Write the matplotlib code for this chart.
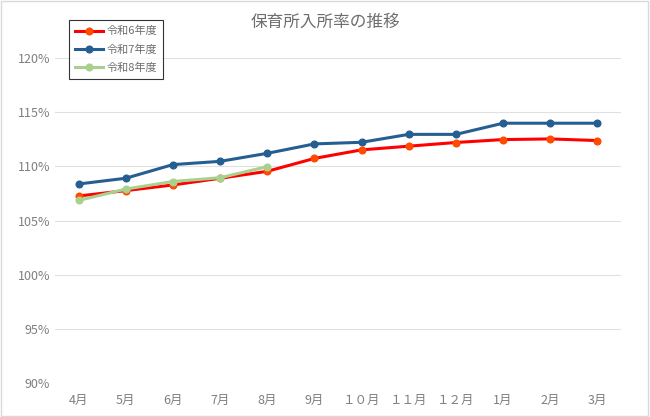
import matplotlib
matplotlib.use("Agg")
import matplotlib.pyplot as plt
from matplotlib.ticker import FuncFormatter

plt.rcParams['font.family'] = ['Noto Sans CJK JP', 'DejaVu Sans']

months = ['4月', '5月', '6月', '7月', '8月', '9月', '１０月', '１１月', '１２月', '1月', '2月', '3月']
r6 = [107.26, 107.76, 108.28, 108.9, 109.54, 110.73, 111.52, 111.86, 112.2, 112.47, 112.53, 112.38]
r7 = [108.37, 108.9, 110.16, 110.46, 111.2, 112.07, 112.22, 112.95, 112.95, 113.98, 113.98, 113.98]
r8 = [106.85, 107.9, 108.6, 108.95, 109.97]

fig = plt.figure(figsize=(6.5, 4.17), dpi=100)
ax = fig.add_axes([55/650, 1-383/417, (621-55)/650, (383-58)/417])

x = list(range(len(months)))
ax.plot(x, r6, color='#FF0000', lw=2.2, marker='o', ms=4.8,
        mfc='#FF4A00', mec='#FF4A00', label='令和6年度', zorder=3)
ax.plot(x, r7, color='#255E91', lw=2.2, marker='o', ms=4.8,
        label='令和7年度', zorder=2)
ax.plot(x[:len(r8)], r8, color='#A9D18E', lw=2.2, marker='o', ms=4.8,
        label='令和8年度', zorder=4)

ax.set_xlim(-0.5, len(months) - 0.5)
ax.set_ylim(90, 120)
ax.set_yticks(range(90, 121, 5))
ax.yaxis.set_major_formatter(FuncFormatter(lambda v, p: f'{v:.0f}%'))
ax.set_xticks(x)
ax.set_xticklabels(months)
ax.tick_params(length=0, colors='#7F7F7F', labelsize=9)
ax.tick_params(axis='x', pad=8)
ax.grid(axis='y', color='#E0E0E0', lw=0.8)
ax.set_axisbelow(True)
for s in ax.spines.values():
    s.set_visible(False)

fig.text(0.5, 1-22/417, '保育所入所率の推移', ha='center', va='center',
         fontsize=12, color='#6E6E6E')

leg = fig.legend(loc='upper left', bbox_to_anchor=(69/650, 1-20/417),
                 fontsize=8, frameon=True, fancybox=False, handlelength=2.5,
                 borderpad=0.55, labelspacing=0.7, handletextpad=0.3,
                 borderaxespad=0, labelcolor='#6E6E6E')
leg.get_frame().set_edgecolor('black')
leg.get_frame().set_linewidth(0.8)

fig.patches.append(plt.Rectangle((0.002, 0.003), 0.995, 0.994, transform=fig.transFigure,
                                 fill=False, edgecolor='#D9D9D9', lw=1))

fig.savefig('out.png', dpi=100)
